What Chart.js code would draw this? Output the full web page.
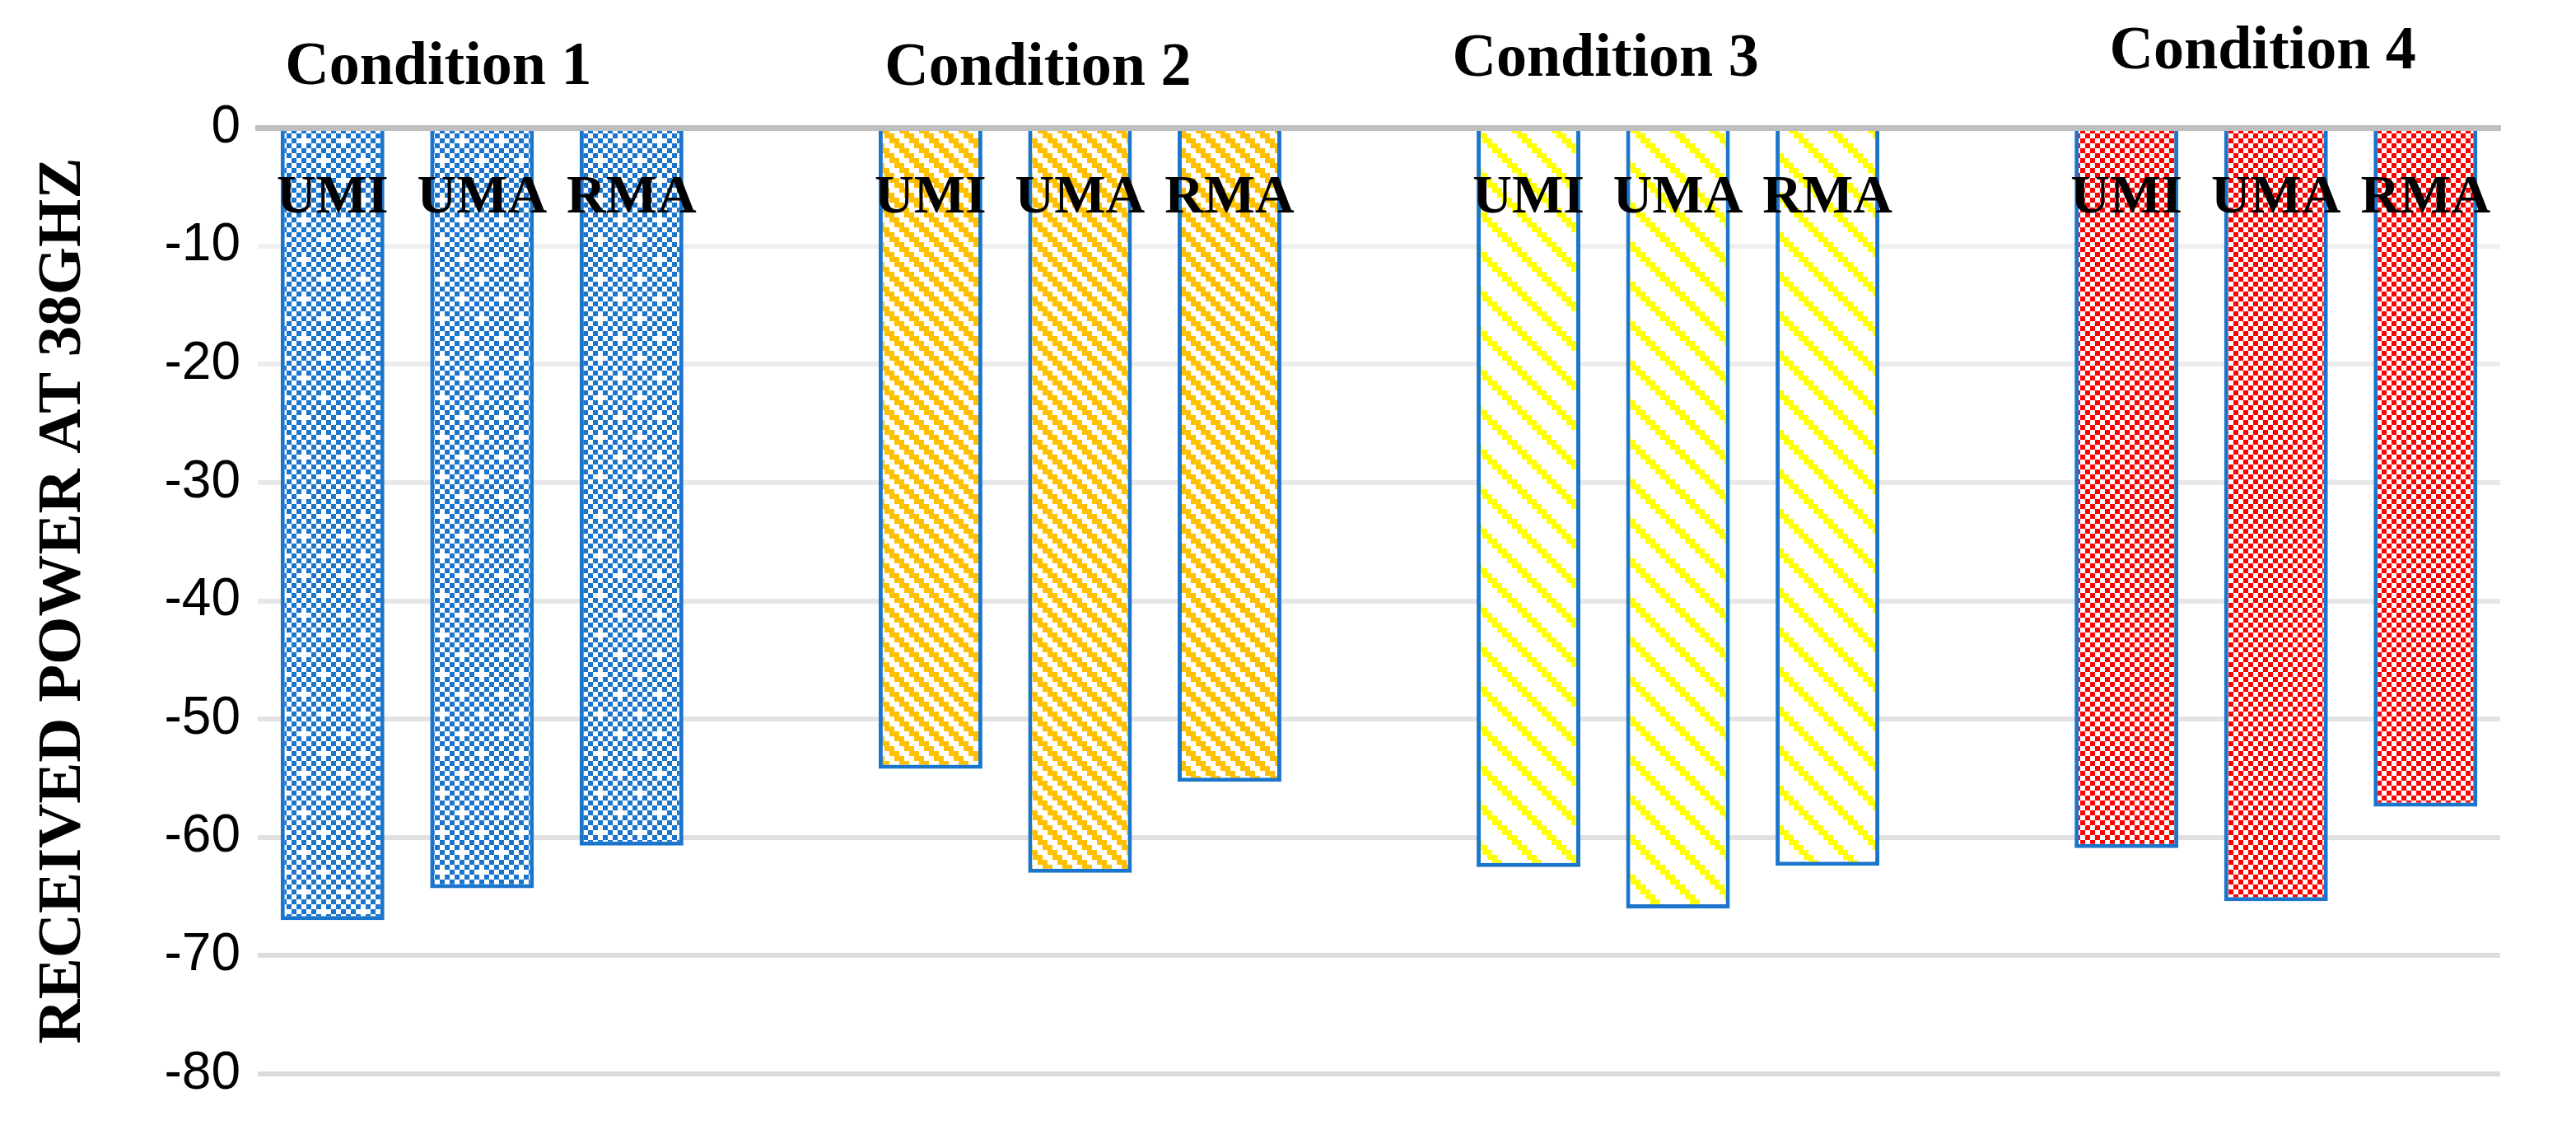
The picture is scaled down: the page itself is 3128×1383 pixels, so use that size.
<!DOCTYPE html>
<html>
<head>
<meta charset="utf-8">
<script src="https://cdn.jsdelivr.net/npm/chart.js@4.4.1/dist/chart.umd.min.js"></script>
<style>
  html, body { margin: 0; padding: 0; background: #fff; }
  #chart { display: block; }
</style>
</head>
<body>
<canvas id="chart" width="3128" height="1383"></canvas>
<script>
// values (dBm-ish, negative)
const barLabels = ['UMI', 'UMA', 'RMA'];
const conditions = ['Condition 1', 'Condition 2', 'Condition 3', 'Condition 4'];
const condition1 = [-67.0, -64.3, -60.7];
const condition2 = [-54.2, -63.0, -55.3];
const condition3 = [-62.5, -66.0, -62.4];
const condition4 = [-60.9, -65.4, -57.4];
const yMin = -80;
const yMax = 0;
const yStep = 10;

const conditionValues = [condition1, condition2, condition3, condition4];

// text boxes for the condition titles (offset from middle bar, baseline y)
const conditionLabelPos = [
  { dx: -53, y: 102 },
  { dx: -51, y: 103 },
  { dx: -88, y: 92 },
  { dx: -16, y: 83 }
];

const BORDER_BLUE = '#1B75CC';

// patterns
function makeTile(size, cell, painter) {
  const c = document.createElement('canvas');
  c.width = size;
  c.height = size;
  const g = c.getContext('2d');
  g.fillStyle = '#fff';
  g.fillRect(0, 0, size, size);
  painter(g, cell, size / cell);
  return g.createPattern(c, 'repeat');
}

// blue checker with white plus holes
const bluePattern = makeTile(48, 6, (g, cell, n) => {
  g.fillStyle = '#1B75CC';
  for (let i = 0; i < n; i++) {
    for (let j = 0; j < n; j++) {
      const hole = (i === 1 && j === 0) || (i === 5 && j === 4);
      if ((i + j) % 2 === 1 && !hole) g.fillRect(i * cell, j * cell, cell, cell);
    }
  }
});

// orange stepped downward diagonal
const orangePattern = makeTile(24, 6, (g, cell, n) => {
  g.fillStyle = '#FFC000';
  for (let i = 0; i < n; i++) {
    for (let j = 0; j < n; j++) {
      if (((i - j) % 4 + 4) % 4 < 2) g.fillRect(i * cell, j * cell, cell, cell);
    }
  }
});

// yellow wide-spaced downward diagonal
const yellowPattern = makeTile(48, 6, (g, cell, n) => {
  g.fillStyle = '#FFFF00';
  for (let i = 0; i < n; i++) {
    for (let j = 0; j < n; j++) {
      if (((i - j) % 8 + 8) % 8 < 2) g.fillRect(i * cell, j * cell, cell, cell);
    }
  }
});

// red checker with red plus fills
const redPattern = makeTile(48, 6, (g, cell, n) => {
  g.fillStyle = '#FF0000';
  for (let i = 0; i < n; i++) {
    for (let j = 0; j < n; j++) {
      const plus = (i === 1 && j === 0) || (i === 5 && j === 4);
      if ((i + j) % 2 === 1 || plus) g.fillRect(i * cell, j * cell, cell, cell);
    }
  }
});

const fills = [bluePattern, orangePattern, yellowPattern, redPattern];

// category list: three bars per condition, one empty slot between conditions
const labels = [];
conditions.forEach((c, k) => {
  barLabels.forEach(b => labels.push(b));
  if (k < conditions.length - 1) labels.push('');
});

const datasets = conditionValues.map((vals, k) => {
  const data = labels.map(() => null);
  vals.forEach((v, i) => { data[k * 4 + i] = v; });
  return {
    label: conditions[k],
    data: data,
    backgroundColor: fills[k],
    borderColor: BORDER_BLUE,
    borderWidth: 5,
    grouped: false,
    categoryPercentage: 1.0,
    barPercentage: 0.694
  };
});

const conditionTitles = {
  id: 'conditionTitles',
  afterDraw(chart) {
    const { ctx } = chart;
    const xScale = chart.scales.x;
    ctx.save();
    ctx.font = 'bold 74px "Liberation Serif"';
    ctx.fillStyle = '#000';
    ctx.textAlign = 'center';
    ctx.textBaseline = 'alphabetic';
    conditions.forEach((c, k) => {
      const x = xScale.getPixelForValue(k * 4 + 1) + conditionLabelPos[k].dx;
      ctx.fillText(c, x, conditionLabelPos[k].y);
    });
    ctx.restore();
  }
};

function gridColor(value) {
  if (value === 0) return '#BFBFBF';
  const t = Math.min(1, -value / 80);
  const c = Math.round(242 - t * 24);
  return `rgb(${c},${c},${c})`;
}

new Chart(document.getElementById('chart').getContext('2d'), {
  type: 'bar',
  data: { labels: labels, datasets: datasets },
  options: {
    responsive: false,
    animation: false,
    devicePixelRatio: 1,
    layout: { padding: { top: 155, right: 92, bottom: 79, left: 0 } },
    plugins: {
      legend: { display: false },
      tooltip: { enabled: false }
    },
    scales: {
      x: {
        type: 'category',
        position: { y: 0 },
        grid: { display: false, drawTicks: false },
        border: { display: true, color: '#BFBFBF', width: 7, z: 1 },
        ticks: {
          z: 1,
          autoSkip: false,
          maxRotation: 0,
          padding: 46,
          color: '#000',
          font: { family: 'Liberation Serif', weight: 'bold', size: 66 }
        }
      },
      y: {
        min: yMin,
        max: yMax,
        afterFit(scale) { scale.width = 313; },
        grid: {
          drawTicks: false,
          lineWidth: 6,
          color: ctx => gridColor(ctx.tick.value)
        },
        border: { display: false },
        ticks: {
          stepSize: yStep,
          padding: 21,
          color: '#000',
          font: { family: 'Liberation Sans', size: 64 }
        },
        title: {
          display: true,
          text: 'RECEIVED POWER AT 38GHZ',
          color: '#000',
          font: { family: 'Liberation Serif', weight: 'bold', size: 75 },
          padding: { top: 33, bottom: 0 }
        }
      }
    }
  },
  plugins: [conditionTitles]
});
</script>
</body>
</html>
